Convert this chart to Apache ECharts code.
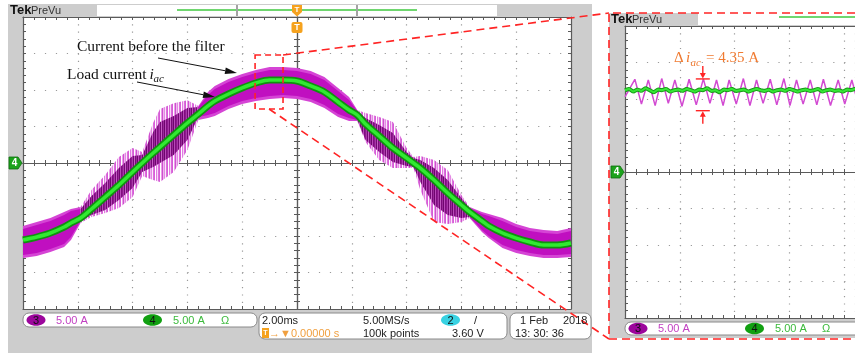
<!DOCTYPE html>
<html>
<head>
<meta charset="utf-8">
<title>Current before the filter and load current</title>
<script src="https://cdn.jsdelivr.net/npm/echarts@6.0.0/dist/echarts.min.js"></script>
<style>
  html, body { margin: 0; padding: 0; background: #ffffff; }
  #chart { width: 855px; height: 357px; }
</style>
</head>
<body>
<div id="chart"></div>
<script>
// ---- 2 ms/div capture: CH3 = current before the filter, CH4 = load current i_ac (5 A/div) ----
const timeMs = [-10, -9.5, -9, -8.5, -8.25, -7.9, -7.5, -7, -6.5, -6, -5.65, -5.25, -5, -4.5, -4, -3.6,
  -3.25, -3, -2.5, -2, -1.5, -1, -0.5, 0, 0.5, 1, 1.5, 1.9, 2.2, 2.5, 3, 3.5, 4, 4.25, 4.5, 5, 5.5,
  6, 6.3, 6.75, 7, 7.5, 8, 8.5, 9, 9.5, 10];
const loadCurrent = [-10.55, -10.14, -9.59, -8.77, -8.22, -7.54, -6.30, -4.66, -3.01, -1.23, 0, 1.37,
  2.19, 3.84, 5.48, 6.71, 7.81, 8.49, 9.45, 10.28, 10.96, 11.37, 11.37, 11.23, 10.55, 9.73, 8.36, 7.26,
  6.58, 5.34, 3.70, 2.06, 0.69, 0, -0.69, -2.33, -4.11, -5.75, -6.71, -7.95, -8.63, -9.59, -10.28,
  -10.82, -11.23, -11.23, -10.96];
// envelope of the switching ripple on the current before the filter
const filterOuterHi = [-8.63, -8.08, -7.54, -6.71, -6.30, -6.03, -3.70, -1.64, 0.82, 2.06, 1.51, 5.50,
  7.40, 8.20, 8.60, 7.81, 9.73, 10.55, 11.51, 12.19, 12.74, 13.15, 13.15, 13.02, 12.60, 11.78, 10.28,
  9.04, 7.26, 6.85, 6.30, 5.62, 2.06, 0.82, 0.96, 0.41, -0.96, -4.38, -6.03, -6.71, -6.99, -7.54, -8.36,
  -8.91, -9.18, -9.32, -8.91];
const filterOuterLo = [-13.02, -12.74, -12.19, -11.51, -10.55, -8.22, -7.40, -6.85, -6.17, -4.66, -1.78,
  -2.33, -2.60, -1.23, 1.78, 5.89, 6.17, 6.44, 7.40, 8.08, 8.49, 8.77, 8.91, 8.77, 8.36, 7.54, 6.30,
  5.75, 5.75, 2.88, 0.41, -0.69, -0.69, -0.69, -3.70, -8.08, -8.36, -8.08, -7.54, -9.45, -10.28,
  -11.65, -12.33, -12.74, -13.02, -13.02, -12.88];
// dense core of the ripple band
const filterCoreHi = [-9.04, -8.49, -7.95, -7.12, -6.58, -6.30, -4.52, -2.74, -0.69, 0.96, 1.10, 4.25,
  5.62, 6.44, 7.54, 7.67, 9.32, 10.14, 11.10, 11.78, 12.33, 12.74, 12.74, 12.60, 12.19, 11.37, 9.86,
  8.63, 7.12, 6.17, 5.21, 4.11, 1.51, 0.69, 0.41, -0.69, -2.33, -4.80, -6.17, -6.99, -7.26, -7.95,
  -8.77, -9.32, -9.59, -9.73, -9.32];
const filterCoreLo = [-12.60, -12.33, -11.78, -11.10, -10.14, -7.95, -7.12, -6.44, -5.07, -3.43, -1.23,
  -0.55, 0, 1.10, 3.15, 6.30, 6.58, 6.85, 7.81, 8.49, 8.91, 9.18, 9.32, 9.18, 8.77, 7.95, 6.71, 6.17,
  5.89, 3.15, 1.51, 0.14, -0.41, -0.55, -2.60, -5.75, -7.12, -7.54, -7.40, -9.18, -10.00, -11.23,
  -11.92, -12.33, -12.60, -12.60, -12.47];
// intervals around the zero crossings where the ripple turns into spikes
const spikyZonesMs = [[-7.9, -3.6], [2.2, 6.3]];
// window expanded on the right-hand screen
const zoomWindowMs = [-1.53, -0.51];
const zoomWindowA = [7.4, 14.8];

// ---- expanded screen (time in µs, 100 µs/div, 5 A/div) ----
const detailRippleUs = [0, 18, 30, 42.5, 55, 67, 79, 91, 104, 117, 130, 143, 155, 167, 179, 190, 203,
  216, 228, 240, 252, 265, 277, 290, 301, 313, 325, 338, 350, 362, 375, 389, 401, 414, 426, 438, 450];
const detailRippleA = [10.3, 12.7, 9.3, 12.6, 9.1, 12.8, 9.4, 12.6, 9.0, 12.7, 9.2, 12.75, 9.4, 12.6,
  9.1, 12.6, 9.3, 12.8, 9.1, 12.6, 9.4, 12.7, 9.2, 12.8, 9.1, 12.6, 9.3, 12.6, 9.2, 12.7, 9.1, 12.6,
  9.3, 12.6, 9.2, 12.7, 9.1];
const detailLoadStepUs = 7.5;
const detailLoadA = [11.2, 11.4, 11.0, 11.3, 11.1, 11.5, 11.2, 10.9, 11.3, 11.2, 11.4, 11.0, 11.2, 11.3,
  11.1, 11.4, 11.2, 11.0, 11.3, 11.2, 11.5, 11.1, 11.2, 10.9, 11.3, 11.2, 11.4, 11.1, 11.2, 11.3, 11.0,
  11.2, 11.4, 11.2, 11.1, 11.3, 11.0, 11.2, 11.3, 11.1, 11.4, 11.2, 11.0, 11.2, 11.3, 11.1, 11.2, 11.4,
  11.0, 11.2, 11.3, 11.1, 11.2, 11.0, 11.3, 11.2, 11.4, 11.1, 11.2, 11.3, 11.1];
const rippleDeltaA = 4.35;
const rippleMarkUs = 142;
const rippleMarkTopA = 12.75;

// ---- styling ----
const PANEL = '#cdcdcd';
const AXIS = '#5a5a5a';
const DOT = '#9a9a9a';
const ORANGE = '#f5a21e';
const RED = '#ff2424';
const SANS = '"Liberation Sans", Arial, sans-serif';
const SERIF = '"Liberation Serif", "Times New Roman", serif';

const DIV_PX = 54.8;              // one horizontal division on screen
const DETAIL_LEFT = 625;
const DETAIL_WIDTH = 855 - DETAIL_LEFT;   // visible part of the expanded screen
const DETAIL_US_PER_DIV = 100;

function pairs(xs, ys) { return xs.map((x, i) => [x, ys[i]]); }

function gAxis(gridIndex, range, position, onZeroIdx, inside, splitDash) {
  const axisLine = { show: true, onZero: onZeroIdx != null, lineStyle: { color: AXIS, width: 1.2 } };
  if (onZeroIdx != null) axisLine.onZeroAxisIndex = onZeroIdx;
  return {
    type: 'value', gridIndex, min: range[0], max: range[1], interval: range[2], position,
    axisLabel: { show: false }, axisLine,
    axisTick: { show: true, inside, length: 3, lineStyle: { color: AXIS, width: 1 } },
    minorTick: { show: true, splitNumber: 5, length: 3, lineStyle: { color: AXIS, width: 1 } },
    splitLine: splitDash ? { show: true, lineStyle: { color: DOT, width: 1.2, type: splitDash } } : { show: false },
    axisPointer: { show: false }, silent: true
  };
}

const MAIN_X = [-10, 10, 2];
const DETAIL_X = [0, DETAIL_US_PER_DIV * DETAIL_WIDTH / DIV_PX, DETAIL_US_PER_DIV];
const AMP_Y = [-20, 20, 5];
const V_DOTS = [1.2, 6.1];   // dots on vertical grid lines, one per minor division
const H_DOTS = [1.2, 9.76];  // dots on horizontal grid lines

// column textures for the spiky parts of the ripple band
function stripes(cols) {
  const c = document.createElement('canvas');
  c.width = cols.length; c.height = 4;
  const g = c.getContext('2d');
  cols.forEach((col, i) => { g.fillStyle = col; g.fillRect(i, 0, 1, 4); });
  return { image: c, repeat: 'repeat' };
}
const SPIKE_LIGHT = stripes(['#e27ce2', '#f6d6f6', '#dc6cdc', '#d45cd4', '#ffffff', '#e9a0e9',
  '#cf4fcf', '#efb6ef', '#e38ae3', '#fbe8fb', '#dc70dc', '#d75fd7', '#ffffff']);
const SPIKE_DARK = stripes(['#7a0a7a', '#9a2a9a', '#6d066d', '#b848b8', '#800c80', '#8e1a8e',
  '#a838a8', '#740874', '#c25cc2']);

function bandSegments() {
  const cuts = [0];
  spikyZonesMs.forEach(([a, b]) => { cuts.push(timeMs.indexOf(a), timeMs.indexOf(b)); });
  cuts.push(timeMs.length - 1);
  const segs = [];
  for (let k = 0; k < cuts.length - 1; k++) segs.push([cuts[k], cuts[k + 1], k % 2 === 1]);
  return segs;
}

function bandRenderer(hi, lo, smoothFill, spikyFill) {
  return function (params, api) {
    const children = bandSegments().map(([i0, i1, spiky]) => {
      const pts = [];
      for (let i = i0; i <= i1; i++) pts.push(api.coord([timeMs[i], hi[i]]));
      for (let i = i1; i >= i0; i--) pts.push(api.coord([timeMs[i], lo[i]]));
      return { type: 'polygon', shape: { points: pts }, style: { fill: spiky ? spikyFill : smoothFill } };
    });
    return { type: 'group', children };
  };
}

function zoomBoxRenderer(params, api) {
  const a = api.coord([api.value(0), api.value(3)]);
  const b = api.coord([api.value(2), api.value(1)]);
  return {
    type: 'rect', shape: { x: a[0], y: a[1], width: b[0] - a[0], height: b[1] - a[1] },
    style: { fill: 'none', stroke: RED, lineWidth: 1.6, lineDash: [6, 4] }
  };
}

function deltaRenderer(params, api) {
  const t = api.value(0);
  const top = api.coord([t, api.value(1)]);
  const bot = api.coord([t, api.value(2)]);
  const st = { stroke: RED, lineWidth: 1.4 };
  return {
    type: 'group', children: [
      { type: 'line', shape: { x1: top[0] - 7, y1: top[1], x2: top[0] + 7, y2: top[1] }, style: st },
      { type: 'line', shape: { x1: top[0], y1: top[1] - 13, x2: top[0], y2: top[1] - 5 }, style: st },
      { type: 'polygon', shape: { points: [[top[0] - 3, top[1] - 6], [top[0] + 3, top[1] - 6], [top[0], top[1] - 0.5]] }, style: { fill: RED } },
      { type: 'line', shape: { x1: bot[0] - 7, y1: bot[1], x2: bot[0] + 7, y2: bot[1] }, style: st },
      { type: 'line', shape: { x1: bot[0], y1: bot[1] + 5, x2: bot[0], y2: bot[1] + 13 }, style: st },
      { type: 'polygon', shape: { points: [[bot[0] - 3, bot[1] + 6], [bot[0] + 3, bot[1] + 6], [bot[0], bot[1] + 0.5]] }, style: { fill: RED } }
    ]
  };
}

// ---- instrument chrome (graphic elements) ----
function txt(text, x, y, font, fill, align) {
  return { type: 'text', z: 50, silent: true,
    style: { text, x, y, font, fill, align: align || 'left', verticalAlign: 'middle',
             textAlign: align || 'left', textVerticalAlign: 'middle' } };
}
function rect(x, y, w, h, fill, z, extra) {
  return Object.assign({ type: 'rect', z: z, silent: true, shape: { x, y, width: w, height: h, r: (extra && extra.r) || 0 },
    style: Object.assign({ fill }, (extra && extra.style) || {}) });
}
function line(x1, y1, x2, y2, stroke, w, dash) {
  return { type: 'line', z: 45, silent: true, shape: { x1, y1, x2, y2 },
    style: { stroke, lineWidth: w, lineDash: dash || null } };
}
function badge(cx, cy, label, fill) {
  return [
    { type: 'ellipse', z: 48, silent: true, shape: { cx, cy, rx: 9.5, ry: 5.8 }, style: { fill } },
    txt(label, cx, cy + 0.5, '11px ' + SANS, '#111', 'center')
  ];
}
function chMarker(x, y) {
  return [
    { type: 'polygon', z: 48, silent: true, shape: { points: [[x, y - 6], [x + 9, y - 6], [x + 13, y], [x + 9, y + 6], [x, y + 6]] },
      style: { fill: '#1ba31b', stroke: '#0c6c0c', lineWidth: 0.8 } },
    txt('4', x + 5.5, y + 0.5, 'bold 10px ' + SANS, '#fff', 'center')
  ];
}
function arrow(x1, y1, x2, y2) {
  const a = Math.atan2(y2 - y1, x2 - x1), L = 12, W = 3.2;
  const bx = x2 - L * Math.cos(a), by = y2 - L * Math.sin(a);
  const nx = -Math.sin(a) * W, ny = Math.cos(a) * W;
  return [
    line(x1, y1, bx, by, '#111', 1),
    { type: 'polygon', z: 46, silent: true, shape: { points: [[x2, y2], [bx + nx, by + ny], [bx - nx, by - ny]] }, style: { fill: '#111' } }
  ];
}

const PURPLE_TXT = '#c23fc2';
const GREEN_TXT = '#3bba3b';
const F11 = '11px ' + SANS;

const chrome = [
  // main screen
  rect(8, 4, 584, 349, PANEL, -2),
  rect(97, 5, 400, 11, '#ffffff', -1),
  txt('Tek', 10, 10.5, 'bold 13px ' + SANS, '#111'),
  txt('PreVu', 31, 10.5, F11, '#333'),
  line(177, 10, 417, 10, '#3fc83f', 1.5),
  line(237, 5, 237, 16, '#a3a3a3', 2),
  line(357, 5, 357, 16, '#a3a3a3', 2),
  { type: 'polygon', z: 48, silent: true, shape: { points: [[292, 5], [302, 5], [302, 12], [297, 16.5], [292, 12]] }, style: { fill: ORANGE } },
  txt('T', 297, 9.5, 'bold 8px ' + SANS, '#fff', 'center'),
  rect(291.5, 22, 11, 11, ORANGE, 48, { r: 2 }),
  txt('T', 297, 28, 'bold 9px ' + SANS, '#fff', 'center'),
  ...chMarker(9, 163),
  rect(23, 313, 234, 14, '#ffffff', 40, { r: 6, style: { stroke: '#8a8a8a', lineWidth: 1 } }),
  ...badge(36, 320, '3', '#9c069c'),
  txt('5.00 A', 56, 320.5, F11, PURPLE_TXT),
  ...badge(152.5, 320, '4', '#11a011'),
  txt('5.00 A', 173, 320.5, F11, GREEN_TXT),
  txt('Ω', 221, 320.5, F11, GREEN_TXT),
  rect(259, 313, 248, 26, '#ffffff', 40, { r: 6, style: { stroke: '#8a8a8a', lineWidth: 1 } }),
  txt('2.00ms', 262, 320.5, F11, '#222'),
  txt('5.00MS/s', 363, 320.5, F11, '#222'),
  ...badge(450.5, 320, '2', '#38d2e2'),
  txt('/', 474, 320.5, F11, '#222'),
  rect(262, 328, 7, 10, ORANGE, 48),
  txt('T', 265.5, 333.5, 'bold 7px ' + SANS, '#fff', 'center'),
  txt('→▼0.00000 s', 269, 333.5, F11, '#f0a040'),
  txt('100k points', 363, 333.5, F11, '#222'),
  txt('3.60 V', 452, 333.5, F11, '#222'),
  rect(510, 313, 81, 26, '#ffffff', 40, { r: 6, style: { stroke: '#8a8a8a', lineWidth: 1 } }),
  txt('1 Feb', 520, 320.5, F11, '#222'),
  txt('2018', 563, 320.5, F11, '#222'),
  txt('13: 30: 36', 515, 333.5, F11, '#222'),
  // annotations on the main screen
  txt('Current before the filter', 77, 47, '15.5px ' + SERIF, '#111'),
  txt('Load current', 67, 75, '15.5px ' + SERIF, '#111'),
  txt('i', 149.5, 75, 'italic 15.5px ' + SERIF, '#111'),
  txt('ac', 153.5, 79.5, 'italic 11px ' + SERIF, '#111'),
  ...arrow(158, 58, 237, 73),
  ...arrow(137, 82, 215, 97),
  // expanded screen
  rect(609, 13, 246, 325, PANEL, -2),
  rect(698, 13, 157, 12, '#ffffff', -1),
  txt('Tek', 611, 19.5, 'bold 13px ' + SANS, '#111'),
  txt('PreVu', 632, 19.5, F11, '#333'),
  line(779, 17, 855, 17, '#3fc83f', 1.5),
  ...chMarker(611, 172),
  rect(625, 322, 260, 13, '#ffffff', 40, { r: 6, style: { stroke: '#8a8a8a', lineWidth: 1 } }),
  ...badge(638, 328.5, '3', '#9c069c'),
  txt('5.00 A', 658, 329, F11, PURPLE_TXT),
  ...badge(754.5, 328.5, '4', '#11a011'),
  txt('5.00 A', 775, 329, F11, GREEN_TXT),
  txt('Ω', 822, 329, F11, GREEN_TXT),
  { type: 'polyline', z: 45, silent: true, shape: { points: [[855, 13], [609, 13], [609, 339], [855, 339]] },
    style: { stroke: RED, lineWidth: 1.6, lineDash: [8, 5], fill: null } },
  txt('Δ', 674, 58.5, '15px ' + SERIF, '#f07a30'),
  txt('i', 686, 58.5, 'italic 15px ' + SERIF, '#f07a30'),
  txt('ac', 690.5, 63.5, 'italic 11px ' + SERIF, '#f07a30'),
  txt('= 4.35 A', 706, 58.5, '15px ' + SERIF, '#f07a30')
];

const mainXY = { xAxisIndex: 0, yAxisIndex: 0 };
const detailXY = { xAxisIndex: 4, yAxisIndex: 4 };
const loadPairs = pairs(timeMs, loadCurrent);
const detailLoadPairs = detailLoadA.map((v, i) => [i * detailLoadStepUs, v]);

const option = {
  animation: false,
  backgroundColor: '#ffffff',
  grid: [
    { left: 23, top: 17, width: 548, height: 292, show: true, backgroundColor: '#ffffff', borderWidth: 0 },
    { left: DETAIL_LEFT, top: 26, width: DETAIL_WIDTH, height: 292, show: true, backgroundColor: '#ffffff', borderWidth: 0 }
  ],
  xAxis: [
    gAxis(0, MAIN_X, 'bottom', 0, false, V_DOTS),
    gAxis(0, MAIN_X, 'bottom', 0, true, null),
    gAxis(0, MAIN_X, 'bottom', null, true, null),
    gAxis(0, MAIN_X, 'top', null, true, null),
    gAxis(1, DETAIL_X, 'bottom', 4, false, V_DOTS),
    gAxis(1, DETAIL_X, 'bottom', 4, true, null),
    gAxis(1, DETAIL_X, 'bottom', null, true, null),
    gAxis(1, DETAIL_X, 'top', null, true, null)
  ],
  yAxis: [
    gAxis(0, AMP_Y, 'left', 0, false, H_DOTS),
    gAxis(0, AMP_Y, 'left', 0, true, null),
    gAxis(0, AMP_Y, 'left', null, true, null),
    gAxis(0, AMP_Y, 'right', null, true, null),
    gAxis(1, AMP_Y, 'left', null, true, H_DOTS)
  ],
  graphic: { elements: chrome },
  series: [
    Object.assign({ type: 'custom', name: 'Current before the filter (envelope)', z: 2, silent: true, data: [[0, 0]],
      renderItem: bandRenderer(filterOuterHi, filterOuterLo, '#d544d5', SPIKE_LIGHT) }, mainXY),
    Object.assign({ type: 'custom', name: 'Current before the filter (core)', z: 3, silent: true, data: [[0, 0]],
      renderItem: bandRenderer(filterCoreHi, filterCoreLo, '#c00fc0', SPIKE_DARK) }, mainXY),
    Object.assign({ type: 'line', name: 'Load current', z: 4, silent: true, data: loadPairs, smooth: 0.35,
      symbol: 'none', lineStyle: { color: '#0f930f', width: 7 } }, mainXY),
    Object.assign({ type: 'line', name: 'Load current', z: 5, silent: true, data: loadPairs, smooth: 0.35,
      symbol: 'none', lineStyle: { color: '#31ea31', width: 3.5 } }, mainXY),
    Object.assign({ type: 'custom', name: 'Zoom window', z: 10, silent: true,
      data: [[zoomWindowMs[0], zoomWindowA[0], zoomWindowMs[1], zoomWindowA[1]]],
      renderItem: zoomBoxRenderer }, mainXY),
    Object.assign({ type: 'line', name: 'Current before the filter', z: 3, silent: true,
      data: pairs(detailRippleUs, detailRippleA), symbol: 'none',
      lineStyle: { color: '#d24ad2', width: 1.5 } }, detailXY),
    Object.assign({ type: 'line', name: 'Load current', z: 4, silent: true, data: detailLoadPairs, symbol: 'none',
      lineStyle: { color: '#179b17', width: 4 } }, detailXY),
    Object.assign({ type: 'line', name: 'Load current', z: 5, silent: true, data: detailLoadPairs, symbol: 'none',
      lineStyle: { color: '#36e636', width: 2 } }, detailXY),
    Object.assign({ type: 'custom', name: 'Ripple peak-to-peak', z: 6, silent: true,
      data: [[rippleMarkUs, rippleMarkTopA, rippleMarkTopA - rippleDeltaA]],
      renderItem: deltaRenderer }, detailXY)
  ]
};

const chart = echarts.init(document.getElementById('chart'), null, { renderer: 'canvas' });
chart.setOption(option);

// dashed leaders from the zoom window to the expanded screen
const boxTopRight = chart.convertToPixel(mainXY, [zoomWindowMs[1], zoomWindowA[1]]);
const boxBottomMid = chart.convertToPixel(mainXY, [(zoomWindowMs[0] + zoomWindowMs[1]) / 2, zoomWindowA[0]]);
chart.setOption({
  graphic: { elements: [
    Object.assign(line(boxTopRight[0], boxTopRight[1], 609, 13, RED, 1.6, [8, 5]), { id: 'leaderTop' }),
    Object.assign(line(boxBottomMid[0], boxBottomMid[1], 609, 339, RED, 1.6, [8, 5]), { id: 'leaderBottom' })
  ] }
});
</script>
</body>
</html>
